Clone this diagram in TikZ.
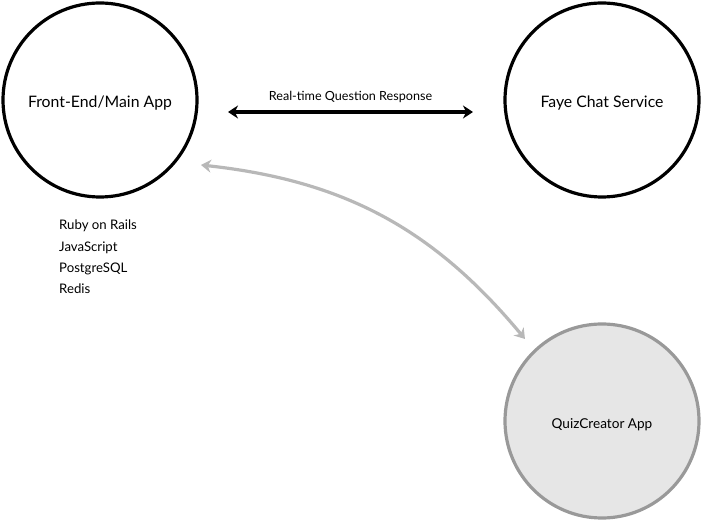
\documentclass[tikz,border=0pt]{standalone}
\usepackage{fontspec}
\setmainfont{Lato}
\usepackage{tikz}
\usepackage{xcolor}
\usetikzlibrary{arrows.meta, positioning}

\definecolor{quizfill}{HTML}{E6E6E6}
\definecolor{quizline}{HTML}{999999}
\definecolor{linkgray}{HTML}{B8B8B8}

\begin{document}
\begin{tikzpicture}[
    x=1pt, y=-1pt,
    app/.style={circle, draw, line width=3.2pt, minimum size=194pt, inner sep=0pt, text height=15pt, text depth=0pt, font=\fontsize{15.8}{18}\selectfont},
    quiz/.style={app, draw=quizline, fill=quizfill, font=\fontsize{13.6}{15}\selectfont},
    tech/.style={font=\fontsize{13.2}{15}\selectfont, inner sep=0pt, anchor=west},
    link/.style={line width=3.2pt, {Stealth[length=10pt, width=13pt]}-{Stealth[length=10pt, width=13pt]}}
]
    \useasboundingbox (0,0) rectangle (702,521);

    % Apps
    \node[app] (main) at (100,100) {Front-End/Main App};
    \node[app] (faye) at (602,100) {Faye Chat Service};
    \node[quiz] (quiz) at (602,421) {QuizCreator App};

    % Links
    \coordinate (mainR) at (228,112);
    \coordinate (fayeL) at (473,112);
    \draw[link] (mainR) -- node[above=4pt, font=\fontsize{12.6}{14}\selectfont] (rtq) {Real-time Question Response} (fayeL);
    \coordinate (mainB) at (201,165);
    \coordinate (quizT) at (525,339);
    \draw[link, draw=linkgray, bend left=22] (mainB) to (quizT);

    % Stack
    \node[tech] (ruby) at (59,226) {Ruby on Rails};
    \node[tech, below=9pt of ruby.south west, anchor=north west] (js) {JavaScript};
    \node[tech, below=9pt of js.south west, anchor=north west] (pg) {PostgreSQL};
    \node[tech, below=9pt of pg.south west, anchor=north west] (redis) {Redis};
\end{tikzpicture}
\end{document}
